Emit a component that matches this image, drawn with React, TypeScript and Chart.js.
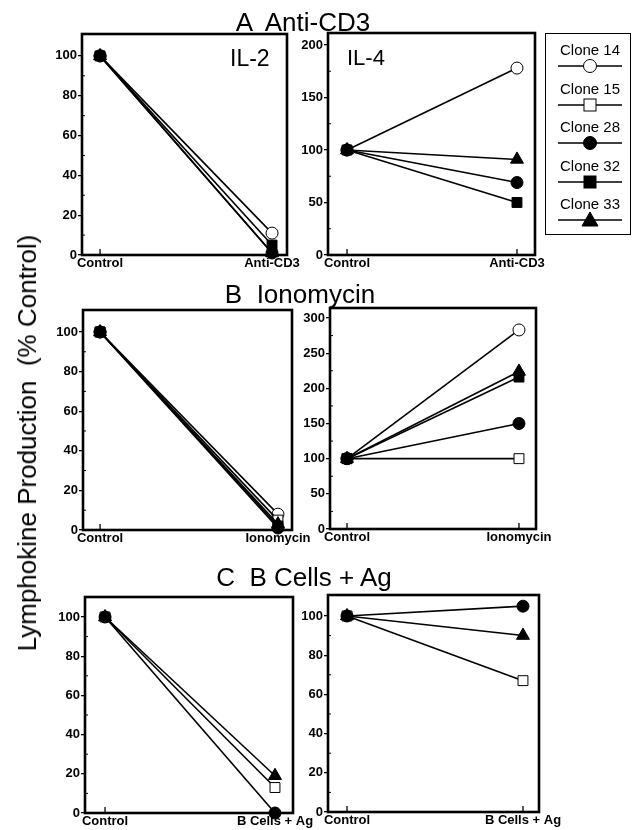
import React, { useEffect, useRef } from "react";
import { Chart, registerables } from "chart.js";

Chart.register(...registerables);

const FONT = "'Liberation Sans', Arial, Helvetica, sans-serif";

// ---------- data ----------
const CLONES = ["Clone 14", "Clone 15", "Clone 28", "Clone 32", "Clone 33"];
const CLONE_MARKERS = ["circle", "rect", "circle", "rect", "triangle"];
const CLONE_FILLED = [false, false, true, true, true];

const CONTROL_VALUE = 100;

const A_X_LABELS = ["Control", "Anti-CD3"];
const B_X_LABELS = ["Control", "Ionomycin"];
const C_X_LABELS = ["Control", "B Cells + Ag"];

// value after treatment (% of control), order = CLONES; null = not tested
const A_IL2_VALUES = [11, null, 1, 5, 1];
const A_IL4_VALUES = [178, null, 69, 50, 91];
const B_IL2_VALUES = [8, 5, 1, 2, 3];
const B_IL4_VALUES = [283, 100, 150, 216, 224];
const C_IL2_VALUES = [null, 13, 0, null, 19];
const C_IL4_VALUES = [null, 67, 105, null, 90];

const Y_TICKS_100 = [0, 20, 40, 60, 80, 100];
const Y_TICKS_200 = [0, 50, 100, 150, 200];
const Y_TICKS_300 = [0, 50, 100, 150, 200, 250, 300];

const TITLES = ["A  Anti-CD3", "B  Ionomycin", "C  B Cells + Ag"];
const Y_TITLE = "Lymphokine Production  (% Control)";

// ---------- layout ----------
const PAD_L = 44;
const PAD_T = 10;
const PAD_R = 34;
const PAD_B = 26;

const MARKER_RADIUS: Record<string, number> = { circle: 6, rect: 7, triangle: 7.5 };

const framePlugin = {
  id: "panelFrame",
  beforeDatasetsDraw(chart: any, _args: any, opts: any) {
    const { ctx, chartArea: a, scales } = chart;
    ctx.save();
    ctx.strokeStyle = "#000";
    ctx.lineWidth = 1.3;
    [0, 1].forEach((v) => {
      const px = scales.x.getPixelForValue(v);
      ctx.beginPath();
      ctx.moveTo(px, a.bottom);
      ctx.lineTo(px, a.bottom - 6);
      ctx.stroke();
    });
    const ticks: number[] = opts.ticks || [];
    ctx.lineWidth = 1;
    for (let i = 0; i < ticks.length - 1; i++) {
      const mid = (ticks[i] + ticks[i + 1]) / 2;
      const py = scales.y.getPixelForValue(mid);
      ctx.beginPath();
      ctx.moveTo(a.left, py);
      ctx.lineTo(a.left + 3, py);
      ctx.stroke();
    }
    ctx.lineWidth = 2.6;
    ctx.strokeRect(a.left, a.top, a.right - a.left, a.bottom - a.top);
    ctx.restore();
  },
};

type PanelProps = {
  L: number;
  T: number;
  R: number;
  B: number;
  xMin: number;
  xMax: number;
  yMax: number;
  yTicks: number[];
  xLabels: string[];
  values: (number | null)[];
};

function Panel(p: PanelProps) {
  const ref = useRef<HTMLCanvasElement>(null);
  const w = p.R - p.L + PAD_L + PAD_R;
  const h = p.B - p.T + PAD_T + PAD_B;

  useEffect(() => {
    const datasets: any[] = [];
    p.values.forEach((v, i) => {
      if (v === null) return;
      const style = CLONE_MARKERS[i];
      datasets.push({
        label: CLONES[i],
        order: -i,
        data: [
          { x: 0, y: CONTROL_VALUE },
          { x: 1, y: v },
        ],
        borderColor: "#000",
        borderWidth: 1.6,
        pointStyle: style,
        pointRadius: MARKER_RADIUS[style],
        pointBackgroundColor: CLONE_FILLED[i] ? "#000" : "#fff",
        pointBorderColor: "#000",
        pointBorderWidth: 1,
        clip: false,
        fill: false,
        tension: 0,
      });
    });
    const tickFont = { family: FONT, size: 13, weight: "bold" as const };
    const chart = new Chart(ref.current as HTMLCanvasElement, {
      type: "line",
      data: { datasets },
      options: {
        animation: false,
        responsive: false,
        maintainAspectRatio: false,
        devicePixelRatio: 1,
        layout: { padding: { left: 0, top: PAD_T, right: PAD_R, bottom: 0 } },
        plugins: {
          legend: { display: false },
          tooltip: { enabled: false },
          panelFrame: { ticks: p.yTicks },
        } as any,
        scales: {
          x: {
            type: "linear",
            min: p.xMin,
            max: p.xMax,
            afterFit: (s: any) => {
              s.height = PAD_B;
            },
            afterBuildTicks: (s: any) => {
              s.ticks = [{ value: 0 }, { value: 1 }];
            },
            ticks: {
              callback: (_v: any, i: number) => p.xLabels[i],
              font: tickFont,
              color: "#000",
              padding: 1,
              maxRotation: 0,
              autoSkip: false,
            },
            grid: { display: false, drawTicks: false },
            border: { display: false },
          },
          y: {
            type: "linear",
            min: 0,
            max: p.yMax,
            afterFit: (s: any) => {
              s.width = PAD_L;
            },
            afterBuildTicks: (s: any) => {
              s.ticks = p.yTicks.map((v) => ({ value: v }));
            },
            ticks: {
              font: tickFont,
              color: "#000",
              padding: 1,
              autoSkip: false,
            },
            grid: {
              display: true,
              drawOnChartArea: false,
              drawTicks: true,
              tickLength: 4,
              color: "#000",
              lineWidth: 1.3,
            },
            border: { display: false },
          },
        },
      },
      plugins: [framePlugin],
    });
    return () => chart.destroy();
  }, []);

  return (
    <canvas
      ref={ref}
      width={w}
      height={h}
      style={{
        position: "absolute",
        left: p.L - PAD_L,
        top: p.T - PAD_T,
        width: w,
        height: h,
      }}
    />
  );
}

function Text(props: {
  text: string;
  x: number;
  y: number;
  size: number;
  align?: "left" | "center";
  weight?: string;
}) {
  const { text, x, y, size, align = "center", weight = "normal" } = props;
  const tx = align === "center" ? "-50%" : "0";
  return (
    <div
      style={{
        position: "absolute",
        left: x,
        top: y - size / 2,
        fontFamily: FONT,
        fontSize: size,
        lineHeight: `${size}px`,
        fontWeight: weight as any,
        whiteSpace: "pre",
        color: "#000",
        transform: `translateX(${tx})`,
      }}
    >
      {text}
    </div>
  );
}

function LegendMarker({ i }: { i: number }) {
  const style = CLONE_MARKERS[i];
  const fill = CLONE_FILLED[i] ? "#000" : "#fff";
  const cx = 32;
  const cy = 8;
  let marker: any;
  if (style === "circle") marker = <circle cx={cx} cy={cy} r={6.5} fill={fill} stroke="#000" strokeWidth={1} />;
  else if (style === "rect") marker = <rect x={cx - 6} y={cy - 6} width={12} height={12} fill={fill} stroke="#000" strokeWidth={1} />;
  else marker = <polygon points={`${cx},${cy - 8} ${cx + 8},${cy + 6} ${cx - 8},${cy + 6}`} fill={fill} stroke="#000" strokeWidth={1} />;
  return (
    <svg width={64} height={16} style={{ display: "block" }}>
      <line x1={0} y1={cy} x2={64} y2={cy} stroke="#000" strokeWidth={1.5} />
      {marker}
    </svg>
  );
}

function Legend() {
  return (
    <div
      style={{
        position: "absolute",
        left: 545,
        top: 33,
        width: 86,
        height: 202,
        border: "1.5px solid #000",
        boxSizing: "border-box",
      }}
    >
      {CLONES.map((c, i) => (
        <div key={c} style={{ position: "absolute", left: 12, top: 8 + i * 38.6, width: 64 }}>
          <div
            style={{
              fontFamily: FONT,
              fontSize: 15,
              lineHeight: "15px",
              textAlign: "center",
              whiteSpace: "pre",
            }}
          >
            {c}
          </div>
          <div style={{ marginTop: 1 }}>
            <LegendMarker i={i} />
          </div>
        </div>
      ))}
    </div>
  );
}

export default function App() {
  return (
    <div
      style={{
        position: "absolute",
        left: 0,
        top: 0,
        width: 634,
        height: 830,
        background: "#fff",
        overflow: "hidden",
      }}
    >
      <Panel L={82} T={34} R={287} B={255} xMin={-0.105} xMax={1.087} yMax={111} yTicks={Y_TICKS_100} xLabels={A_X_LABELS} values={A_IL2_VALUES} />
      <Panel L={328} T={33} R={535} B={255} xMin={-0.112} xMax={1.106} yMax={211.4} yTicks={Y_TICKS_200} xLabels={A_X_LABELS} values={A_IL4_VALUES} />
      <Panel L={83} T={310} R={292} B={530} xMin={-0.096} xMax={1.079} yMax={111.1} yTicks={Y_TICKS_100} xLabels={B_X_LABELS} values={B_IL2_VALUES} />
      <Panel L={330} T={308} R={536} B={529} xMin={-0.099} xMax={1.099} yMax={314.2} yTicks={Y_TICKS_300} xLabels={B_X_LABELS} values={B_IL4_VALUES} />
      <Panel L={85} T={597} R={293} B={813} xMin={-0.118} xMax={1.106} yMax={110.2} yTicks={Y_TICKS_100} xLabels={C_X_LABELS} values={C_IL2_VALUES} />
      <Panel L={328} T={595} R={539} B={812} xMin={-0.108} xMax={1.091} yMax={110.7} yTicks={Y_TICKS_100} xLabels={C_X_LABELS} values={C_IL4_VALUES} />

      <Text text={TITLES[0]} x={303} y={22} size={26} />
      <Text text={TITLES[1]} x={300} y={294} size={26} />
      <Text text={TITLES[2]} x={304} y={577} size={26} />

      <Text text="IL-2" x={230} y={58} size={23} align="left" />
      <Text text="IL-4" x={347} y={58} size={22} align="left" />

      <div
        style={{
          position: "absolute",
          left: 27,
          top: 443,
          fontFamily: FONT,
          fontSize: 26,
          lineHeight: "26px",
          whiteSpace: "pre",
          transform: "translate(-50%, -50%) rotate(-90deg)",
        }}
      >
        {Y_TITLE}
      </div>

      <Legend />
    </div>
  );
}
